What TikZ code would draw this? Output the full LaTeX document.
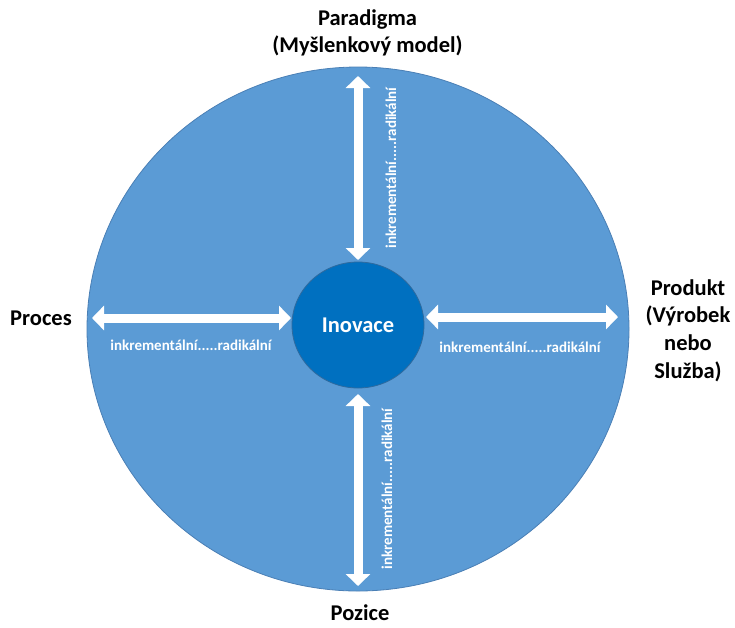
\documentclass[tikz,border=0pt]{standalone}
\usepackage{fontspec}
\setmainfont{Carlito}
\usetikzlibrary{shapes.geometric,arrows.meta}
\definecolor{outerblue}{HTML}{5B9BD5}
\definecolor{outeredge}{HTML}{4A7FB5}
\definecolor{innerblue}{HTML}{0070C0}
\definecolor{inneredge}{HTML}{2F6A9E}
\tikzset{
  bigcirc/.style={ellipse, fill=outerblue, draw=outeredge, line width=0.8pt, inner sep=0pt},
  hubcirc/.style={ellipse, fill=innerblue, draw=inneredge, line width=0.8pt, inner sep=0pt,
    text=white, font=\bfseries\fontsize{22.5}{26}\selectfont},
  dblarrow/.style={draw=white, line width=9pt,
    {Triangle[length=12pt,width=24pt]}-{Triangle[length=12pt,width=24pt]}},
  scalelbl/.style={text=white, font=\bfseries\fontsize{15}{17}\selectfont, inner sep=0pt},
  outerlabel/.style={text=black, font=\bfseries\fontsize{22.5}{27.7}\selectfont, align=center, inner sep=0pt}
}
\begin{document}
\begin{tikzpicture}[x=1pt,y=-1pt]
\useasboundingbox (0,0) rectangle (735,627);
\node[bigcirc, minimum width=542pt, minimum height=524pt] (outer) at (358,329) {};
\node[hubcirc, minimum width=132pt, minimum height=126pt] (hub) at (358,325) {Inovace};
% arrow ends
\coordinate (lA) at (92,318);  \coordinate (lB) at (291,318);
\coordinate (rA) at (426,317); \coordinate (rB) at (618,317);
\coordinate (tA) at (358,76);  \coordinate (tB) at (358,260);
\coordinate (bA) at (358,394); \coordinate (bB) at (358,586);
\draw[dblarrow] (lA) -- (lB);
\draw[dblarrow] (rA) -- (rB);
\draw[dblarrow] (tA) -- (tB);
\draw[dblarrow] (bA) -- (bB);
% scale labels
\node[scalelbl] (sl) at (191,345) {inkrementální.....radikální};
\node[scalelbl] (sr) at (520,347) {inkrementální.....radikální};
\node[scalelbl, rotate=90] (st) at (391,168) {inkrementální.....radikální};
\node[scalelbl, rotate=90] (sb) at (387,489) {inkrementální.....radikální};
% outer labels
\node[outerlabel] (par) at (367.5,33) {Paradigma\\(Myšlenkový model)};
\node[outerlabel] (proc) at (41,318) {Proces};
\node[outerlabel] (prod) at (688,330.5) {Produkt\\(Výrobek\\nebo\\Služba)};
\node[outerlabel] (poz) at (360,613) {Pozice};
\end{tikzpicture}
\end{document}
